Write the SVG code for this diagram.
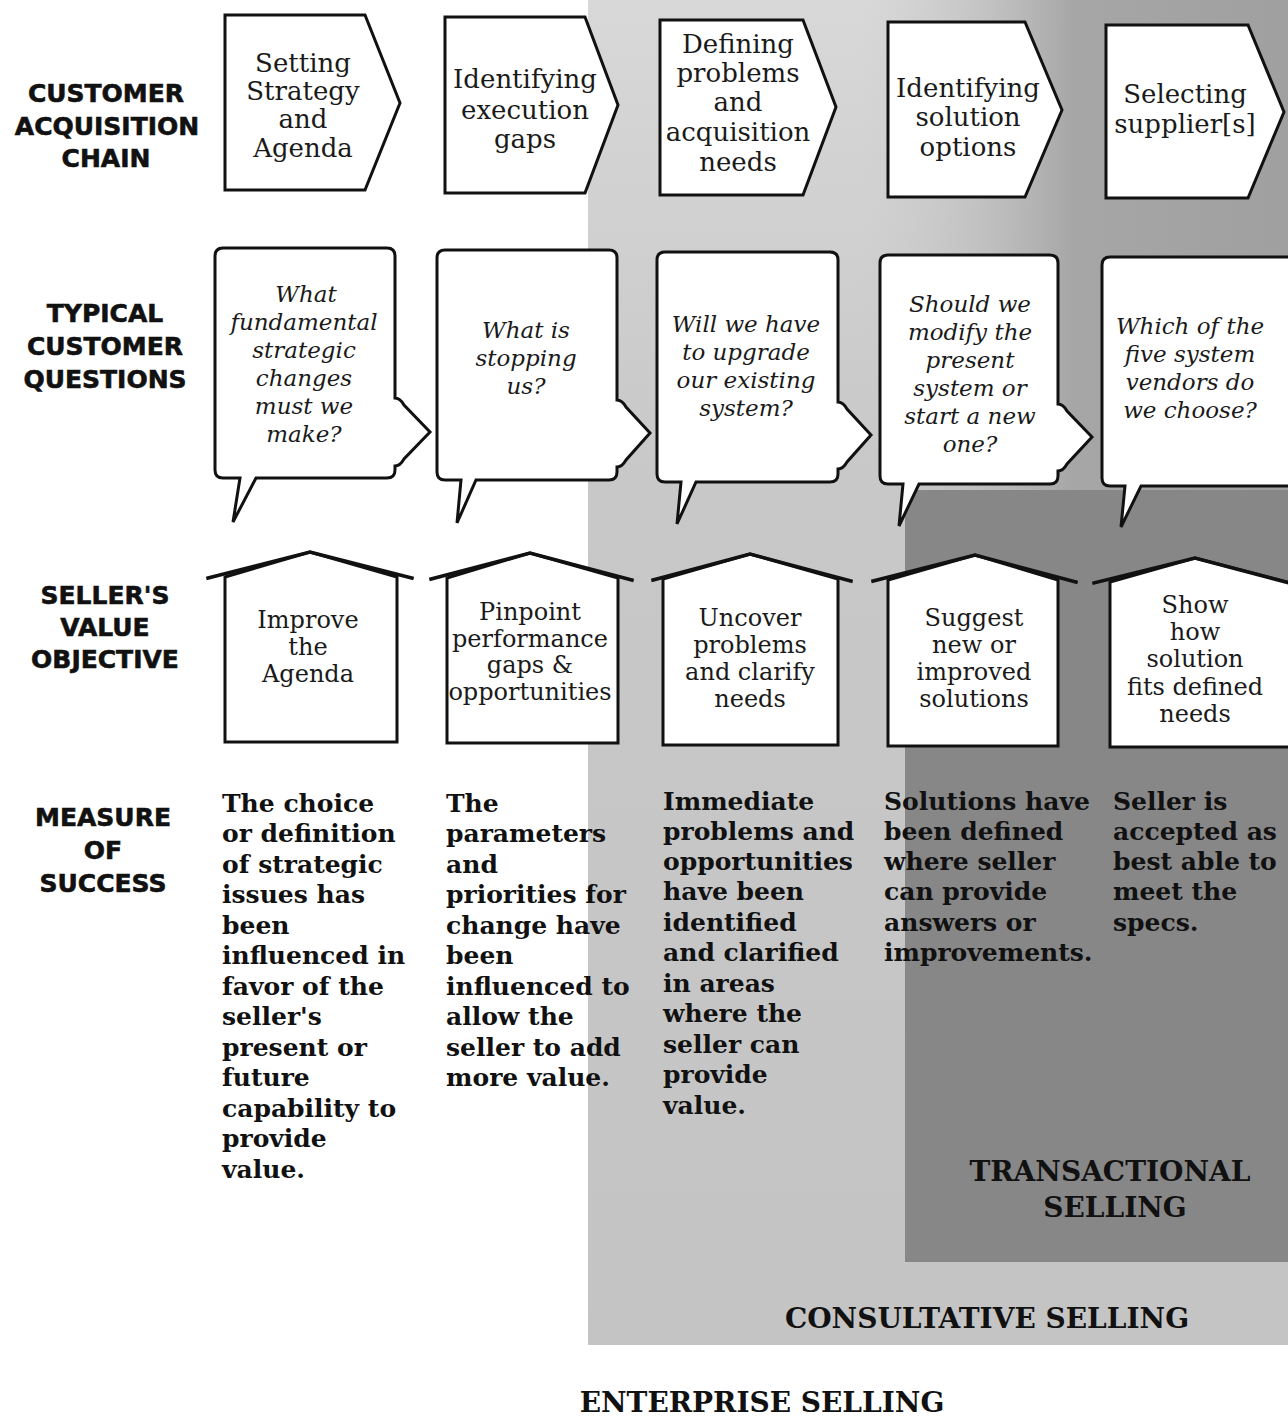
<svg xmlns="http://www.w3.org/2000/svg" width="1288" height="1418" viewBox="0 0 1288 1418">
<defs>
<linearGradient id="consGrad" x1="0" y1="0" x2="0" y2="1">
  <stop offset="0" stop-color="#d8d8d8"/>
  <stop offset="0.35" stop-color="#c8c8c8"/>
  <stop offset="1" stop-color="#c4c4c4"/>
</linearGradient>
<linearGradient id="upperGrad" x1="0" y1="0" x2="1" y2="0">
  <stop offset="0" stop-color="#c8c8c8" stop-opacity="0"/>
  <stop offset="0.5" stop-color="#a6a6a6"/>
  <stop offset="1" stop-color="#a0a0a0"/>
</linearGradient>
</defs>
<style>
.bg{fill:#ffffff}
.cons{fill:url(#consGrad)}
.upper{fill:url(#upperGrad)}
.trans{fill:#878787}
.shape{fill:#ffffff;stroke:#111;stroke-width:3;stroke-linejoin:miter}
.roof{fill:none;stroke:#111;stroke-width:3.5;stroke-linecap:square}
.lbl{font-family:"DejaVu Sans",sans-serif;font-weight:bold;font-size:25px;fill:#111;text-anchor:middle;stroke:#111;stroke-width:0.6}
.chain{font-family:"DejaVu Serif",serif;font-size:26px;fill:#1a1a1a;text-anchor:middle}
.q{font-family:"DejaVu Serif",serif;font-style:italic;font-size:23px;fill:#1a1a1a;text-anchor:middle}
.obj{font-family:"DejaVu Serif",serif;font-size:24px;fill:#1a1a1a;text-anchor:middle}
.meas{font-family:"DejaVu Serif",serif;font-weight:bold;font-size:25px;fill:#111}
.zone{font-family:"DejaVu Serif",serif;font-weight:bold;font-size:28px;fill:#111;text-anchor:middle}
</style>
<rect class="bg" x="0" y="0" width="1288" height="1418"/>
<g id="zones">
  <rect id="consultative-zone" class="cons" x="588" y="0" width="700" height="1345"/>
  <rect id="upper-shade" class="upper" x="860" y="0" width="428" height="490"/>
  <rect id="transactional-zone" class="trans" x="905" y="490" width="383" height="772"/>
</g>

<g id="row-labels">
  <g id="label-chain"><text class="lbl" x="106" y="102">CUSTOMER</text><text class="lbl" x="107" y="135">ACQUISITION</text><text class="lbl" x="106" y="167">CHAIN</text></g>
  <g id="label-questions"><text class="lbl" x="105" y="322">TYPICAL</text><text class="lbl" x="105" y="355">CUSTOMER</text><text class="lbl" x="105" y="388">QUESTIONS</text></g>
  <g id="label-objective"><text class="lbl" x="105" y="604">SELLER'S</text><text class="lbl" x="105" y="636">VALUE</text><text class="lbl" x="105" y="668">OBJECTIVE</text></g>
  <g id="label-measure"><text class="lbl" x="103" y="826">MEASURE</text><text class="lbl" x="103" y="859">OF</text><text class="lbl" x="103" y="892">SUCCESS</text></g>
</g>

<g id="connectors"></g>

<g id="chain">
  <g id="chain-1"><path class="shape" d="M225,15 H365 L400,103 L365,190 H225 Z"/>
    <text class="chain" x="303" y="72">Setting</text><text class="chain" x="303" y="100">Strategy</text><text class="chain" x="303" y="128">and</text><text class="chain" x="303" y="157">Agenda</text></g>
  <g id="chain-2"><path class="shape" d="M445,17 H585 L618,105 L585,193 H445 Z"/>
    <text class="chain" x="525" y="88">Identifying</text><text class="chain" x="525" y="119">execution</text><text class="chain" x="525" y="148">gaps</text></g>
  <g id="chain-3"><path class="shape" d="M660,20 H803 L836,107 L803,195 H660 Z"/>
    <text class="chain" x="738" y="53">Defining</text><text class="chain" x="738" y="82">problems</text><text class="chain" x="738" y="111">and</text><text class="chain" x="738" y="141">acquisition</text><text class="chain" x="738" y="171">needs</text></g>
  <g id="chain-4"><path class="shape" d="M888,22 H1025 L1062,110 L1025,197 H888 Z"/>
    <text class="chain" x="968" y="97">Identifying</text><text class="chain" x="968" y="126">solution</text><text class="chain" x="968" y="156">options</text></g>
  <g id="chain-5"><path class="shape" d="M1106,25 H1248 L1284,112 L1248,198 H1106 Z"/>
    <text class="chain" x="1185" y="103">Selecting</text><text class="chain" x="1185" y="133">supplier[s]</text></g>
</g>

<g id="questions">
  <g id="question-1"><path class="shape" d="M223,248 H387 Q395,248 395,256 V398 Q400,398 404,405 L430,432 L404,459 Q400,466 395,466 V470 Q395,478 387,478 H256 L233,522 L240,478 H223 Q215,478 215,470 V256 Q215,248 223,248 Z"/>
    <text class="q" x="306" y="302">What</text><text class="q" x="304" y="330">fundamental</text><text class="q" x="304" y="358">strategic</text><text class="q" x="304" y="386">changes</text><text class="q" x="304" y="414">must we</text><text class="q" x="304" y="442">make?</text></g>
  <g id="question-2"><path class="shape" d="M445,250 H609 Q617,250 617,258 V400 Q622,400 626,407 L650,433 L626,460 Q622,467 617,467 V472 Q617,480 609,480 H476 L457,523 L461,480 H445 Q437,480 437,472 V258 Q437,250 445,250 Z"/>
    <text class="q" x="526" y="338">What is</text><text class="q" x="526" y="366">stopping</text><text class="q" x="526" y="394">us?</text></g>
  <g id="question-3"><path class="shape" d="M665,252 H830 Q838,252 838,260 V402 Q843,402 847,409 L871,435 L847,462 Q843,469 838,469 V474 Q838,482 830,482 H696 L677,524 L681,482 H665 Q657,482 657,474 V260 Q657,252 665,252 Z"/>
    <text class="q" x="746" y="332">Will we have</text><text class="q" x="746" y="360">to upgrade</text><text class="q" x="746" y="388">our existing</text><text class="q" x="746" y="416">system?</text></g>
  <g id="question-4"><path class="shape" d="M888,255 H1050 Q1058,255 1058,263 V404 Q1063,404 1067,411 L1092,437 L1067,464 Q1063,471 1058,471 V476 Q1058,484 1050,484 H919 L899,526 L903,484 H888 Q880,484 880,476 V263 Q880,255 888,255 Z"/>
    <text class="q" x="970" y="312">Should we</text><text class="q" x="970" y="340">modify the</text><text class="q" x="970" y="368">present</text><text class="q" x="970" y="396">system or</text><text class="q" x="970" y="424">start a new</text><text class="q" x="970" y="452">one?</text></g>
  <g id="question-5"><path class="shape" d="M1110,257 H1300 V486 H1141 L1121,527 L1125,486 H1110 Q1102,486 1102,478 V265 Q1102,257 1110,257 Z"/>
    <text class="q" x="1190" y="334">Which of the</text><text class="q" x="1190" y="362">five system</text><text class="q" x="1190" y="390">vendors do</text><text class="q" x="1190" y="418">we choose?</text></g>
</g>

<g id="objectives">
  <g id="objective-1"><path class="shape" d="M225,577 L310,552 L397,577 V742 H225 Z"/><path class="roof" d="M208,578 L310,552 L412,578"/>
    <text class="obj" x="308" y="628">Improve</text><text class="obj" x="308" y="655">the</text><text class="obj" x="308" y="682">Agenda</text></g>
  <g id="objective-2"><path class="shape" d="M447,578 L530,553 L618,578 V743 H447 Z"/><path class="roof" d="M431,579 L530,553 L632,580"/>
    <text class="obj" x="530" y="620">Pinpoint</text><text class="obj" x="530" y="647">performance</text><text class="obj" x="530" y="673">gaps &amp;</text><text class="obj" x="530" y="700">opportunities</text></g>
  <g id="objective-3"><path class="shape" d="M663,579 L750,554 L838,579 V745 H663 Z"/><path class="roof" d="M653,580 L750,554 L851,581"/>
    <text class="obj" x="750" y="626">Uncover</text><text class="obj" x="750" y="653">problems</text><text class="obj" x="750" y="680">and clarify</text><text class="obj" x="750" y="707">needs</text></g>
  <g id="objective-4"><path class="shape" d="M888,580 L975,555 L1058,580 V746 H888 Z"/><path class="roof" d="M873,581 L975,555 L1076,582"/>
    <text class="obj" x="974" y="626">Suggest</text><text class="obj" x="974" y="653">new or</text><text class="obj" x="974" y="680">improved</text><text class="obj" x="974" y="707">solutions</text></g>
  <g id="objective-5"><path class="shape" d="M1110,582 L1195,558 L1295,584 V747 H1110 Z"/><path class="roof" d="M1094,583 L1195,558 L1297,585"/>
    <text class="obj" x="1195" y="613">Show</text><text class="obj" x="1195" y="640">how</text><text class="obj" x="1195" y="667">solution</text><text class="obj" x="1195" y="695">fits defined</text><text class="obj" x="1195" y="722">needs</text></g>
</g>

<g id="measures">
  <g id="measure-1"><text class="meas" x="222" y="812">The choice</text><text class="meas" x="222" y="842">or definition</text><text class="meas" x="222" y="873">of strategic</text><text class="meas" x="222" y="903">issues has</text><text class="meas" x="222" y="934">been</text><text class="meas" x="222" y="964">influenced in</text><text class="meas" x="222" y="995">favor of the</text><text class="meas" x="222" y="1025">seller's</text><text class="meas" x="222" y="1056">present or</text><text class="meas" x="222" y="1086">future</text><text class="meas" x="222" y="1117">capability to</text><text class="meas" x="222" y="1147">provide</text><text class="meas" x="222" y="1178">value.</text></g>
  <g id="measure-2"><text class="meas" x="446" y="812">The</text><text class="meas" x="446" y="842">parameters</text><text class="meas" x="446" y="873">and</text><text class="meas" x="446" y="903">priorities for</text><text class="meas" x="446" y="934">change have</text><text class="meas" x="446" y="964">been</text><text class="meas" x="446" y="995">influenced to</text><text class="meas" x="446" y="1025">allow the</text><text class="meas" x="446" y="1056">seller to add</text><text class="meas" x="446" y="1086">more value.</text></g>
  <g id="measure-3"><text class="meas" x="663" y="810">Immediate</text><text class="meas" x="663" y="840">problems and</text><text class="meas" x="663" y="870">opportunities</text><text class="meas" x="663" y="900">have been</text><text class="meas" x="663" y="931">identified</text><text class="meas" x="663" y="961">and clarified</text><text class="meas" x="663" y="992">in areas</text><text class="meas" x="663" y="1022">where the</text><text class="meas" x="663" y="1053">seller can</text><text class="meas" x="663" y="1083">provide</text><text class="meas" x="663" y="1114">value.</text></g>
  <g id="measure-4"><text class="meas" x="884" y="810">Solutions have</text><text class="meas" x="884" y="840">been defined</text><text class="meas" x="884" y="870">where seller</text><text class="meas" x="884" y="900">can provide</text><text class="meas" x="884" y="931">answers or</text><text class="meas" x="884" y="961">improvements.</text></g>
  <g id="measure-5"><text class="meas" x="1113" y="810">Seller is</text><text class="meas" x="1113" y="840">accepted as</text><text class="meas" x="1113" y="870">best able to</text><text class="meas" x="1113" y="900">meet the</text><text class="meas" x="1113" y="931">specs.</text></g>
</g>

<g id="zone-labels">
  <text class="zone" x="1110" y="1181">TRANSACTIONAL</text>
  <text class="zone" x="1115" y="1217">SELLING</text>
  <text class="zone" x="987" y="1328">CONSULTATIVE SELLING</text>
  <text class="zone" x="762" y="1412">ENTERPRISE SELLING</text>
</g>
</svg>
